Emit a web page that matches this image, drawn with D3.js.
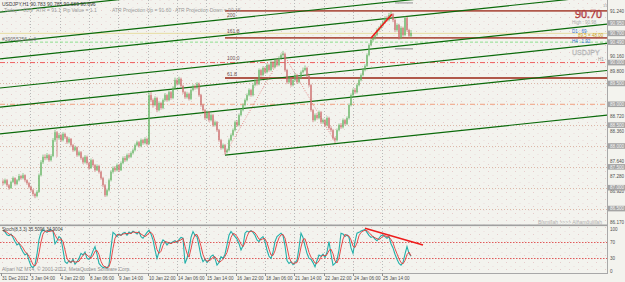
<!DOCTYPE html>
<html>
<head>
<meta charset="utf-8">
<script src="https://cdn.jsdelivr.net/npm/d3@7"></script>
<style>
body { margin: 0; background: #f3f3ee; }
svg { display: block; font-family: "Liberation Sans", Arial, sans-serif; }
</style>
</head>
<body>
<div id="chart"></div>
<script>
// USDJPY H1 bars, 31 Dec 2012 - 25 Jan 2013 (open = previous close)
var firstOpen = 87.15;
var closes = [87.11,87.18,87.06,86.99,87.14,87.23,87.09,87.18,87.28,87.23,87.30,87.18,87.11,
87.02,86.94,86.85,86.80,86.90,87.30,87.61,87.74,87.71,87.78,87.66,87.76,88.14,88.33,88.19,
88.26,88.14,88.29,88.21,88.09,88.17,88.02,87.90,87.97,87.78,87.85,
87.71,87.61,87.74,87.59,87.47,87.66,87.54,87.42,87.52,87.38,87.23,87.06,86.82,86.94,87.18,
87.38,87.47,87.42,87.54,87.42,87.59,87.71,87.66,87.78,87.74,87.83,87.90,
88.02,88.09,88.00,88.14,88.07,88.17,88.05,89.22,
89.10,88.98,89.15,88.86,89.03,88.91,89.10,89.22,89.10,89.29,89.15,89.39,
89.58,89.49,89.61,89.44,89.29,89.17,89.25,89.13,89.34,89.44,89.39,89.49,89.22,
88.98,88.86,88.67,88.81,88.62,88.74,88.50,88.57,88.38,88.14,87.95,88.02,87.85,87.90,
88.14,88.26,88.38,88.57,88.50,88.74,88.86,88.98,89.10,89.22,89.34,89.22,89.46,89.58,89.49,
89.82,89.70,89.87,89.77,89.94,89.82,90.01,89.89,90.06,89.94,90.11,90.18,90.21,
89.82,89.53,89.63,89.46,89.58,89.70,89.53,89.63,89.77,89.82,89.87,89.68,89.46,
88.86,88.62,88.74,88.67,88.81,88.57,88.62,88.50,88.67,88.43,88.38,88.19,88.14,
88.38,88.50,88.45,88.62,88.53,88.67,88.98,89.22,89.34,89.29,
89.46,89.58,89.70,89.82,89.92,90.18,90.42,90.54,
90.59,90.66,90.78,90.83,90.90,90.97,91.07,91.02,91.14,91.16,
91.02,90.78,90.90,90.59,90.83,90.66,91.07,90.78,90.64,90.71];
var highs = [87.20,87.22,87.21,87.09,87.17,87.27,87.25,87.21,87.33,87.31,87.35,87.32,87.20,
87.14,87.05,86.97,86.88,86.94,87.34,87.66,87.79,87.80,87.83,87.81,87.80,88.19,88.39,88.36,
88.31,88.29,88.33,88.32,88.24,88.21,88.19,88.05,88.01,87.99,87.89,
87.88,87.74,87.78,87.77,87.62,87.70,87.69,87.57,87.56,87.55,87.41,87.26,87.09,86.98,87.22,
87.42,87.51,87.52,87.58,87.57,87.63,87.75,87.76,87.82,87.83,87.87,87.94,
88.06,88.13,88.12,88.18,88.17,88.21,88.20,89.28,
89.30,89.14,89.19,89.18,89.07,89.06,89.14,89.27,89.25,89.33,89.32,89.43,
89.64,89.62,89.66,89.64,89.47,89.32,89.29,89.28,89.38,89.48,89.47,89.53,89.52,
89.25,89.01,88.89,88.85,88.84,88.78,88.77,88.61,88.60,88.41,88.17,88.06,88.05,87.94,
88.18,88.30,88.42,88.61,88.62,88.78,88.90,89.02,89.14,89.26,89.38,89.37,89.50,89.62,89.61,
89.86,89.85,89.91,89.90,89.98,89.97,90.05,90.04,90.10,90.09,90.15,90.22,90.28,
90.24,89.85,89.67,89.66,89.62,89.74,89.73,89.67,89.81,89.88,89.93,89.90,89.71,
89.49,88.89,88.78,88.79,88.85,88.84,88.66,88.65,88.71,88.70,88.47,88.41,88.22,
88.42,88.54,88.55,88.66,88.65,88.71,89.02,89.26,89.38,89.39,
89.50,89.62,89.74,89.86,89.96,90.22,90.46,90.58,
90.64,90.70,90.82,90.87,90.94,91.01,91.11,91.12,91.19,91.24,
91.19,91.05,90.94,90.93,90.87,90.86,91.11,91.10,90.81,90.78];
var lows = [87.06,87.08,87.02,86.95,86.97,87.11,87.05,87.06,87.15,87.19,87.20,87.14,87.07,
86.98,86.90,86.80,86.75,86.77,86.88,87.27,87.57,87.66,87.67,87.62,87.63,87.73,88.10,87.74,
88.15,88.10,88.11,88.17,88.05,88.06,87.98,87.86,87.87,87.74,87.75,
87.67,87.57,87.58,87.55,87.43,87.45,87.50,87.38,87.40,87.34,87.19,87.01,86.78,86.79,86.91,
87.15,87.34,87.38,87.39,87.38,87.40,87.56,87.62,87.63,87.70,87.71,87.80,
87.87,87.99,87.96,87.97,88.03,88.04,88.01,88.03,
89.05,88.92,88.95,88.81,88.83,88.87,88.88,89.07,89.06,89.07,89.11,89.12,
89.36,89.45,89.46,89.40,89.25,89.13,89.14,89.09,89.10,89.31,89.35,89.36,89.18,
88.94,88.82,88.63,88.64,88.58,88.59,88.46,88.47,88.34,88.10,87.91,87.92,87.80,87.82,
87.87,88.11,88.23,88.35,88.46,88.47,88.71,88.83,88.95,89.07,89.19,89.18,89.19,89.43,89.45,
89.46,89.66,89.67,89.73,89.74,89.78,89.79,89.85,89.86,89.90,89.91,90.08,90.14,
89.78,89.49,89.50,89.42,89.43,89.55,89.49,89.50,89.60,89.74,89.79,89.64,89.42,
88.82,88.57,88.59,88.63,88.64,88.53,88.53,88.46,88.47,88.39,88.33,88.15,88.07,
88.11,88.35,88.41,88.42,88.49,88.50,88.64,88.95,89.19,89.25,
89.26,89.43,89.55,89.67,89.79,89.89,90.15,90.39,
90.50,90.55,90.63,90.74,90.79,90.86,90.93,90.98,90.99,91.10,
90.97,90.73,90.74,90.55,90.56,90.62,90.63,90.74,90.60,90.60];

// Stochastic (8,3,3)
var stochMain = [97,93,86,84,88,80,70,62,66,55,45,38,42,25,12,8,15,40,75,92,
98,95,92,96,98,95,65,72,82,78,50,22,18,25,20,28,16,22,30,42,
38,45,30,28,35,48,58,40,18,12,8,10,6,15,55,92,88,82,88,85,
90,92,85,93,90,95,92,88,94,82,78,85,92,97,88,74,50,30,45,65,
74,70,62,68,66,70,72,68,75,80,78,18,30,50,80,94,85,82,60,35,
22,28,20,26,35,38,30,14,20,34,30,40,62,85,94,88,82,76,65,50,
60,90,95,93,96,92,85,74,70,78,82,70,50,35,30,45,70,82,86,90,
85,60,25,18,22,15,20,25,55,90,80,60,42,30,28,20,10,25,38,35,
40,32,45,70,40,14,18,26,50,90,88,82,86,80,55,42,70,90,92,95,
97,99,92,85,80,82,76,72,78,84,86,82,78,82,65,55,40,28,18,14,
20,40,58,42,35];
var stochSignal = [96,95,92,88,86,84,79,71,66,61,55,46,42,35,26,15,12,21,43,69,
88,95,95,94,95,96,86,77,73,77,70,50,30,22,21,24,21,22,23,31,
37,42,38,34,31,37,47,49,39,23,13,10,8,10,25,54,78,87,86,85,
88,89,89,90,89,93,92,92,91,88,85,82,85,91,92,86,71,51,42,47,
61,70,69,67,65,68,69,70,72,74,78,59,42,33,53,75,86,87,76,59,
39,28,23,25,27,33,34,27,21,23,28,35,44,62,80,89,88,82,74,64,
58,67,82,93,95,94,91,84,76,74,77,77,67,52,38,37,48,66,79,86,
87,78,57,34,22,18,19,20,33,57,75,77,61,44,33,27,19,18,24,33,
38,36,39,49,52,41,24,19,31,55,76,87,85,83,74,59,56,67,84,92,
95,97,96,92,86,82,79,77,75,78,83,84,82,81,75,67,53,41,29,20,
17,25,39,45,36];

var timeLabels = ["31 Dec 2012","3 Jan 04:00","4 Jan 22:00","8 Jan 06:00","9 Jan 14:00","10 Jan 22:00",
  "14 Jan 06:00","15 Jan 14:00","16 Jan 22:00","18 Jan 06:00","21 Jan 14:00","22 Jan 22:00","24 Jan 06:00","25 Jan 14:00"];
var timeIdx = [-1,13.5,28.25,43,57.5,72.5,87,101.5,116.5,131,145.5,160.5,175,189.5];

var priceTicks = [91.24,90.16,89.80,88.72,88.36,87.64,87.28,86.92];
var priceBoxes = [90.95,90.70,90.49,90.00,89.50,89.00,88.50,88.00,87.50,87.00,86.50];

// channel lines (start / end in bar index and price)
var chStartIdx = [-1.5,-1.5,-1.5,-1.5,-1.5,-1.5,111];
var chStartP   = [91.21,90.47,90.09,89.39,88.93,88.29,87.78];
var chEndP     = [92.74,92.00,91.61,90.92,90.46,89.81,88.74];
var chEndIdx = 302;

var brownLevels = [91.24,90.59,89.63];
var fiboNames = ["200","161.8","100.0","61.8"];
var fiboPrices = [91.10,90.70,90.05,89.67];
var halfLevels = [89.50,88.50,88.00,87.50,87.00,86.50];
var zigIdx = [111,140,166];
var zigP = [87.80,90.23,88.10];
var stochLevels = [70,30];

var W = 625, H = 282, R = 607;
var svg = d3.select("#chart").append("svg").attr("width", W).attr("height", H);

var x = d3.scaleLinear().domain([0, 204]).range([3, 411]);
var y = d3.scaleLinear().domain([86.13, 91.50]).range([224, 0]);
var ys = d3.scaleLinear().domain([0, 100]).range([271, 229]);

var defs = svg.append("defs");
defs.append("clipPath").attr("id", "mainclip").append("rect")
  .attr("x", 0).attr("y", 0).attr("width", R).attr("height", 224);
defs.append("clipPath").attr("id", "stclip").append("rect")
  .attr("x", 0).attr("y", 226).attr("width", R).attr("height", 47);
var pat = defs.append("pattern").attr("id", "dots").attr("patternUnits", "userSpaceOnUse")
  .attr("width", 9).attr("height", 7);
pat.append("rect").attr("x", 2).attr("y", 3).attr("width", 1).attr("height", 1).attr("fill", "#e6cccc");
pat.append("rect").attr("x", 6.5).attr("y", 0).attr("width", 1).attr("height", 1).attr("fill", "#eadada");

svg.append("rect").attr("width", W).attr("height", H).attr("fill", "#f3f3ee");
svg.append("rect").attr("width", R).attr("height", 273).attr("fill", "url(#dots)");

// vertical grid
svg.append("g").selectAll("line").data(timeIdx.slice(1)).enter().append("line")
  .attr("x1", function(d) { return Math.round(x(d)) + 0.5; })
  .attr("x2", function(d) { return Math.round(x(d)) + 0.5; })
  .attr("y1", 0).attr("y2", 273)
  .attr("stroke", "#b8b8b8").attr("stroke-dasharray", "1,2");

var main = svg.append("g").attr("clip-path", "url(#mainclip)");

// dotted half-yen lines
main.selectAll(".half").data(halfLevels).enter().append("line")
  .attr("x1", 0).attr("x2", R)
  .attr("y1", function(d) { return Math.round(y(d)) + 0.5; })
  .attr("y2", function(d) { return Math.round(y(d)) + 0.5; })
  .attr("stroke", "#dcb8a8").attr("stroke-dasharray", "1,2");

main.append("line").attr("x1", 0).attr("x2", R)
  .attr("y1", y(90.00)).attr("y2", y(90.00))
  .attr("stroke", "#ee6060").attr("stroke-dasharray", "5,2,1,2");
main.append("line").attr("x1", 0).attr("x2", R)
  .attr("y1", y(89.00)).attr("y2", y(89.00))
  .attr("stroke", "#f0a080").attr("stroke-dasharray", "5,2,1,2");
main.append("line").attr("x1", 0).attr("x2", R)
  .attr("y1", y(90.49)).attr("y2", y(90.49))
  .attr("stroke", "#8fe08f").attr("stroke-dasharray", "3,2");
main.append("line").attr("x1", 0).attr("x2", R)
  .attr("y1", y(90.70)).attr("y2", y(90.70))
  .attr("stroke", "#e4d890").attr("stroke-width", 0.8);

main.selectAll(".brown").data(brownLevels).enter().append("line")
  .attr("x1", x(111)).attr("x2", R)
  .attr("y1", function(d) { return y(d); }).attr("y2", function(d) { return y(d); })
  .attr("stroke", "#b0584a").attr("stroke-width", 1.8);

// channel lines
main.selectAll(".ch").data(chStartP).enter().append("line")
  .attr("x1", function(d, i) { return x(chStartIdx[i]); })
  .attr("y1", function(d) { return y(d); })
  .attr("x2", x(chEndIdx))
  .attr("y2", function(d, i) { return y(chEndP[i]); })
  .attr("stroke", "#0a6a0a").attr("stroke-width", 1.2);

// zigzag
var zig = d3.line().x(function(d, i) { return x(zigIdx[i]); }).y(function(d) { return y(d); });
main.append("path").attr("d", zig(zigP)).attr("fill", "none")
  .attr("stroke", "#e07070").attr("stroke-width", 0.8).attr("stroke-dasharray", "1,1.5");

// candles
var bars = main.append("g");
closes.forEach(function(c, i) {
  var o = i === 0 ? firstOpen : closes[i - 1];
  var col = c >= o ? "#62b462" : "#cc6a6a";
  var cx = x(i);
  bars.append("line").attr("x1", cx).attr("x2", cx)
    .attr("y1", y(highs[i])).attr("y2", y(lows[i]))
    .attr("stroke", col).attr("stroke-width", 0.7);
  var top = y(Math.max(o, c)), bot = y(Math.min(o, c));
  bars.append("rect").attr("x", cx - 0.55).attr("width", 1.1)
    .attr("y", top).attr("height", Math.max(0.8, bot - top)).attr("fill", col);
});

// red trend line + ATR marks
main.append("line").attr("x1", x(184)).attr("y1", y(90.59)).attr("x2", x(194.5)).attr("y2", y(91.16))
  .attr("stroke", "#ee1c1c").attr("stroke-width", 1.6);
main.selectAll(".atr").data([91.43, 90.33]).enter().append("line")
  .attr("x1", x(196)).attr("x2", x(205))
  .attr("y1", function(d) { return y(d); }).attr("y2", function(d) { return y(d); })
  .attr("stroke", "#a0a0a0").attr("stroke-width", 1.2);

// fibo labels
svg.selectAll(".fibo").data(fiboNames).enter().append("text")
  .attr("x", x(112)).attr("y", function(d, i) { return y(fiboPrices[i]); })
  .attr("font-size", 5).attr("fill", "#705050").text(function(d) { return d; });

// texts in main panel
svg.append("text").attr("x", 2).attr("y", 6).attr("font-size", 5).attr("fill", "#404040")
  .text("USDJPY,H1  90.783 90.785 90.689 90.696");
var info = ["Today = 66.9", "ATR = 91.1", "Pip Value = 1.1", "ATR Projection Up = 91.60", "ATR Projection Down = 90.15"];
var infoX = [4, 36, 63, 112, 175];
svg.selectAll(".info").data(info).enter().append("text")
  .attr("x", function(d, i) { return infoX[i]; }).attr("y", 12)
  .attr("font-size", 5).attr("fill", "#9a9a9a").text(function(d) { return d; });
svg.append("text").attr("x", 2).attr("y", 41).attr("font-size", 5).attr("fill", "#707070").text("#39055256 sell");

svg.append("text").attr("x", 575).attr("y", 18).attr("font-size", 12)
  .attr("font-family", "Liberation Serif, serif").attr("fill", "#c8a0a0").attr("stroke", "#b03030").attr("stroke-width", 0.5)
  .text("90.70");
svg.append("text").attr("x", 603).attr("y", 7).attr("font-size", 4).attr("fill", "#999").text("15");
svg.append("text").attr("x", 572).attr("y", 24).attr("font-size", 4.5).attr("fill", "#aaa").text("High : 90.98");
svg.append("text").attr("x", 572).attr("y", 33).attr("font-size", 4.5).attr("fill", "#3070d0").text("D1 :      69");
svg.append("text").attr("x", 578).attr("y", 37).attr("font-size", 4.5).attr("fill", "#d0a020").text("89.5 = 48.00");
svg.append("text").attr("x", 572).attr("y", 43).attr("font-size", 4.5).attr("fill", "#3070d0").text("H4 :   1.92");
svg.append("text").attr("x", 572).attr("y", 55).attr("font-size", 7).attr("fill", "#e8e8e8")
  .attr("stroke", "#b0b0b0").attr("stroke-width", 0.4).text("USDJPY");
svg.append("text").attr("x", 598).attr("y", 61).attr("font-size", 4.5).attr("fill", "#999").text("H1");
svg.append("text").attr("x", 538).attr("y", 224).attr("font-size", 5).attr("fill", "#b0b0b0").text("Bismillah >>>> Alhamdulillah");

// right axis
svg.append("line").attr("x1", R + 0.5).attr("x2", R + 0.5).attr("y1", 0).attr("y2", 273)
  .attr("stroke", "#a8a8a8");
svg.selectAll(".ptick").data(priceTicks).enter().append("text")
  .attr("x", 610).attr("y", function(d) { return y(d) + 2; })
  .attr("font-size", 4.6).attr("fill", "#505050").text(function(d) { return d.toFixed(3); });
var boxes = svg.selectAll(".pbox").data(priceBoxes).enter().append("g")
  .attr("transform", function(d) { return "translate(" + (R + 1) + "," + (y(d) - 2.8) + ")"; });
boxes.append("rect").attr("width", 18).attr("height", 5.6).attr("fill", "#a4a4a4");
boxes.append("text").attr("x", 2).attr("y", 4.5).attr("font-size", 4.6).attr("fill", "#f4f4f4")
  .text(function(d) { return d.toFixed(3); });

// panel separators
svg.append("rect").attr("x", 0).attr("y", 224.5).attr("width", R).attr("height", 1.6).attr("fill", "#a0a0a0");
svg.append("line").attr("x1", 0).attr("x2", R + 1).attr("y1", 273.5).attr("y2", 273.5).attr("stroke", "#a8a8a8");

// stochastic panel
var st = svg.append("g").attr("clip-path", "url(#stclip)");
st.selectAll(".lvl").data(stochLevels).enter().append("line")
  .attr("x1", 0).attr("x2", R)
  .attr("y1", function(d) { return Math.round(ys(d)) + 0.5; })
  .attr("y2", function(d) { return Math.round(ys(d)) + 0.5; })
  .attr("stroke", "#e05a5a").attr("stroke-dasharray", "1.5,1.5");
var sline = d3.line().x(function(d, i) { return x(i); }).y(function(d) { return ys(d); });
st.append("path").attr("d", sline(stochMain)).attr("fill", "none").attr("stroke", "#22b0aa").attr("stroke-width", 1.1);
st.append("path").attr("d", sline(stochSignal)).attr("fill", "none").attr("stroke", "#e23a3a").attr("stroke-width", 0.9);
st.append("line").attr("x1", x(181)).attr("y1", ys(102)).attr("x2", x(210)).attr("y2", ys(62))
  .attr("stroke", "#ee1c1c").attr("stroke-width", 1.6);

svg.append("text").attr("x", 2).attr("y", 231).attr("font-size", 4.6).attr("fill", "#404040")
  .text("Stoch(8,3,3) 35.5096 34.9004");
svg.append("text").attr("x", 2).attr("y", 271).attr("font-size", 5).attr("fill", "#909090")
  .text("Alpari NZ MT4, \u00a9 2001-2012, MetaQuotes Software Corp.");
svg.selectAll(".sl").data([100, 70, 30, 0]).enter().append("text")
  .attr("x", 610).attr("y", function(d) { return ys(d) + 2; })
  .attr("font-size", 4.6).attr("fill", "#505050").text(function(d) { return d; });
svg.append("text").attr("x", 610).attr("y", 224).attr("font-size", 4.6).attr("fill", "#505050").text("86.170");

// time axis
svg.selectAll(".tt").data(timeIdx).enter().append("line")
  .attr("x1", function(d) { return Math.max(1, Math.round(x(d))) + 0.5; })
  .attr("x2", function(d) { return Math.max(1, Math.round(x(d))) + 0.5; })
  .attr("y1", 273).attr("y2", 276).attr("stroke", "#909090");
svg.selectAll(".tl").data(timeLabels).enter().append("text")
  .attr("x", function(d, i) { return Math.max(1, x(timeIdx[i])) + 1; }).attr("y", 280)
  .attr("font-size", 4.6).attr("fill", "#505050").text(function(d) { return d; });
</script>
</body>
</html>
